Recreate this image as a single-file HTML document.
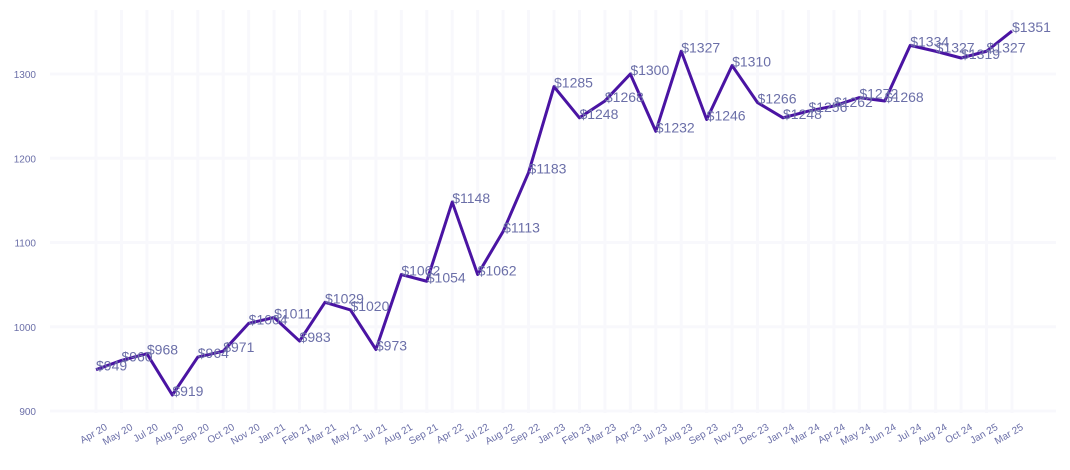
<!DOCTYPE html>
<html><head><meta charset="utf-8"><style>
body{margin:0;background:#fff;font-family:"Liberation Sans",sans-serif}
</style></head><body>
<svg id="chart" width="1070" height="465"></svg>
<script>
const categories=["Apr 20","May 20","Jul 20","Aug 20","Sep 20","Oct 20","Nov 20","Jan 21","Feb 21","Mar 21","May 21","Jul 21","Aug 21","Sep 21","Apr 22","Jul 22","Aug 22","Sep 22","Jan 23","Feb 23","Mar 23","Apr 23","Jul 23","Aug 23","Sep 23","Nov 23","Dec 23","Jan 24","Mar 24","Apr 24","May 24","Jun 24","Jul 24","Aug 24","Oct 24","Jan 25","Mar 25"];
const values=[949,960,968,919,964,971,1004,1011,983,1029,1020,973,1062,1054,1148,1062,1113,1183,1285,1248,1268,1300,1232,1327,1246,1310,1266,1248,1256,1262,1272,1268,1334,1327,1319,1327,1351];
const yTicks=[900,1000,1100,1200,1300];
const NS="http://www.w3.org/2000/svg";
const svg=document.getElementById('chart');
const x0=96,x1=1012;
const xs=i=>x0+(x1-x0)*i/(categories.length-1);
const ys=v=>411-(v-900)*(337/400);
function mk(t,a){const e=document.createElementNS(NS,t);for(const k in a)e.setAttribute(k,a[k]);svg.appendChild(e);return e;}
yTicks.forEach(v=>{
 const g=mk('line',{x1:50,x2:1056,y1:ys(v),y2:ys(v),stroke:'#f8f8fc','stroke-width':3});
 
 
 const t=mk('text',{x:36,y:ys(v)+4,'text-anchor':'end','font-size':10,fill:'#6b6fa8'});
 t.textContent=v;
 
 
});
categories.forEach((c,i)=>{
 const g=mk('line',{x1:xs(i),x2:xs(i),y1:10,y2:413,stroke:'#f8f8fc','stroke-width':3});
 
 
 const ax=xs(i)+12, ay=429;
 const t=mk('text',{x:ax,y:ay,'text-anchor':'end','font-size':10,fill:'#6b6fa8',transform:`rotate(-30 ${ax} ${ay})`});
 t.textContent=c;
 
 
});
const pl=mk('polyline',{points:values.map((v,i)=>xs(i)+','+ys(v)).join(' '),fill:'none',stroke:'#4a14a3','stroke-width':3,'stroke-linejoin':'round'});


values.forEach((v,i)=>{
 const t=mk('text',{x:xs(i),y:ys(v)+1,'font-size':14,fill:'#6b6fa8'});
 t.textContent='$'+v;
 
 
});
</script>
</body></html>
